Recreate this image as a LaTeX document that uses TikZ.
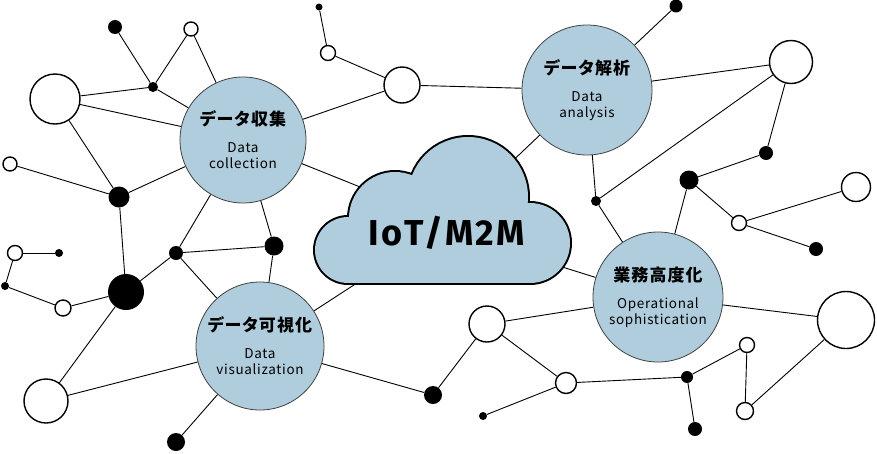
\documentclass[tikz,border=0pt]{standalone}
\usepackage{fontspec}
\newfontfamily\jpfont{Noto Sans CJK JP}[RawFeature=+palt,LetterSpace=6]
\newfontfamily\enfont{Noto Sans CJK JP}[LetterSpace=5]
\newfontfamily\titlefont{Fira Sans}[LetterSpace=6]
\definecolor{hubblue}{RGB}{176,205,221}
\pgfdeclarelayer{background}
\pgfsetlayers{background,main}

\begin{document}
\begin{tikzpicture}[x=1pt,y=-1pt,
    hub/.style={circle,draw=black!75,line width=0.8pt,fill=hubblue,minimum size=#1pt,
      inner sep=0pt,align=center,font=\enfont\fontsize{13.5}{16}\selectfont},
    wdot/.style={circle,draw=black,line width=1.4pt,fill=white,minimum size=#1pt,inner sep=0pt},
    bdot/.style={circle,fill=black,minimum size=#1pt,inner sep=0pt},
    link/.style={line width=0.9pt}]
\useasboundingbox (0,0) rectangle (877,453);

\node[hub=126] (collect) at (243,140)
  {{\jpfont\bfseries\fontsize{17}{17}\selectfont データ収集}\\[11pt]Data\\collection};
\node[hub=130] (analysis) at (587,90)
  {{\jpfont\bfseries\fontsize{17}{17}\selectfont データ解析}\\[11pt]Data\\analysis};
\node[hub=128] (visual) at (260,346)
  {{\jpfont\bfseries\fontsize{17}{17}\selectfont データ可視化}\\[11pt]Data\\visualization};
\node[hub=130] (oper) at (658,297)
  {{\jpfont\bfseries\fontsize{17}{17}\selectfont 業務高度化}\\[11pt]Operational\\sophistication};

\node[bdot=14] (b1) at (115,27) {};
\node[bdot=10] (b2) at (153,87) {};
\node[bdot=21] (b3) at (119,197) {};
\node[bdot=7] (b4) at (319,7) {};
\node[bdot=13] (b5) at (676,6) {};
\node[bdot=14] (b6) at (766,153) {};
\node[bdot=19] (b7) at (689,180) {};
\node[bdot=10] (b8) at (596,201) {};
\node[bdot=14] (b9) at (816,249) {};
\node[bdot=12] (b10) at (687,377) {};
\node[bdot=14] (b11) at (695,429) {};
\node[bdot=18] (b12) at (433,395) {};
\node[bdot=8] (b13) at (483,416) {};
\node[bdot=8] (b14) at (59,253) {};
\node[bdot=8] (b15) at (5,286) {};
\node[bdot=36] (b16) at (126,292) {};
\node[bdot=14] (b17) at (176,253) {};
\node[bdot=19] (b18) at (274,246) {};
\node[bdot=18] (b19) at (176,442) {};

\node[wdot=14] (w1) at (191,29) {};
\node[wdot=50] (w2) at (55,99) {};
\node[wdot=14] (w3) at (10,164) {};
\node[wdot=15] (w4) at (328,53) {};
\node[wdot=36] (w5) at (402,85) {};
\node[wdot=43] (w6) at (791,62) {};
\node[wdot=29] (w7) at (856,187) {};
\node[wdot=15] (w8) at (739,223) {};
\node[wdot=57] (w9) at (846,320) {};
\node[wdot=15] (w10) at (747,345) {};
\node[wdot=17] (w11) at (745,411) {};
\node[wdot=36] (w12) at (487,324) {};
\node[wdot=21] (w13) at (566,383) {};
\node[wdot=15] (w14) at (15,253) {};
\node[wdot=16] (w15) at (63,308) {};
\node[wdot=44] (w16) at (46,401) {};

\coordinate (cA) at (400,203);
\coordinate (cB) at (500,173);
\coordinate (cC) at (380,268);
\coordinate (cD) at (540,260);

\begin{pgfonlayer}{background}
\draw[link] (b1) -- (b2) -- (w1) -- (collect);
\draw[link] (w2) -- (b2) -- (collect);
\draw[link] (w2) -- (collect);
\draw[link] (w2) -- (b3) -- (w3);
\draw[link] (b3) -- (collect);
\draw[link] (b3) -- (b16);
\draw[link] (b17) -- (collect) -- (b18);
\draw[link] (b4) -- (w4) -- (w5) -- (collect);
\draw[link] (w5) -- (analysis);
\draw[link] (collect) -- (cA);
\draw[link] (analysis) -- (cB);
\draw[link] (analysis) -- (b5);
\draw[link] (analysis) -- (w6) -- (b8);
\draw[link] (w6) -- (b6) -- (b7) -- (w8) -- (w7);
\draw[link] (analysis) -- (b8) -- (oper);
\draw[link] (b7) -- (oper);
\draw[link] (w8) -- (b9);
\draw[link] (oper) -- (w9) -- (w11) -- (w10) -- (b10) -- (b11);
\draw[link] (b10) -- (w13) -- (b13);
\draw[link] (cD) -- (oper);
\draw[link] (w12) -- (oper);
\draw[link] (cC) -- (visual);
\draw[link] (visual) -- (b12) -- (w12) -- (w13);
\draw[link] (w14) -- (b14);
\draw[link] (w14) -- (b15) -- (w15) -- (b16);
\draw[link] (b16) -- (b17) -- (b18);
\draw[link] (b16) -- (w16) -- (visual);
\draw[link] (b17) -- (visual) -- (b18);
\draw[link] (visual) -- (b19);
\end{pgfonlayer}

\begin{scope}[line width=4pt,line join=round]
\draw (348,250) circle[radius=33pt];
\draw (395,218) circle[radius=46pt];
\draw (468,197) circle[radius=60pt];
\draw (530,243) circle[radius=40pt];
\draw (348,240) rectangle (530,283);
\fill[hubblue] (348,250) circle[radius=33pt];
\fill[hubblue] (395,218) circle[radius=46pt];
\fill[hubblue] (468,197) circle[radius=60pt];
\fill[hubblue] (530,243) circle[radius=40pt];
\fill[hubblue] (348,240) rectangle (530,283);
\end{scope}
\node[font=\titlefont\bfseries\fontsize{36}{36}\selectfont,anchor=base] (cloud) at (447,245) {IoT/M2M};
\end{tikzpicture}
\end{document}
